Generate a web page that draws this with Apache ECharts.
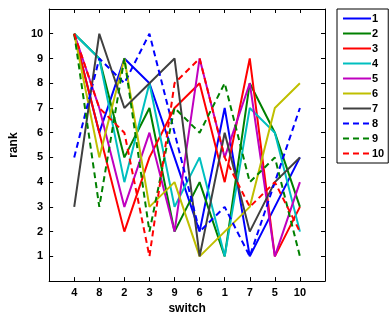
<!DOCTYPE html>
<html><head><meta charset="utf-8">
<script src="https://cdn.jsdelivr.net/npm/echarts@6/dist/echarts.min.js"></script>
<style>html,body{margin:0;padding:0;background:#fff}#c{width:390px;height:320px}</style>
</head><body><div id="c"></div>
<script>
const categories = ['4','8','2','3','9','6','1','7','5','10'];
const yTicks = [1,2,3,4,5,6,7,8,9,10];
const seriesNames = ['1','2','3','4','5','6','7','8','9','10'];
const s1  = [10, 6, 9, 8, 5, 2, 7, 1, 3, 5];
const s2  = [10, 9, 5, 7, 2, 4, 1, 8, 6, 3];
const s3  = [10, 6, 2, 5, 7, 8, 4, 9, 1, 3];
const s4  = [10, 9, 4, 8, 3, 5, 1, 7, 6, 2];
const s5  = [10, 7, 3, 6, 2, 9, 5, 8, 1, 4];
const s6  = [10, 5, 9, 3, 4, 1, 2, 3, 7, 8];
const s7  = [3, 10, 7, 8, 9, 1, 6, 2, 4, 5];
const s8  = [5, 9, 8, 10, 6, 2, 3, 1, 4, 7];
const s9  = [10, 3, 9, 2, 7, 6, 8, 4, 5, 1];
const s10 = [10, 7, 6, 1, 8, 9, 5, 3, 4, 2];
const allSeries = [s1,s2,s3,s4,s5,s6,s7,s8,s9,s10];
const colors = ['#0000ff','#008000','#ff0000','#00bfbf','#bf00bf','#bfbf00','#404040','#0000ff','#008000','#ff0000'];
const dashed = [false,false,false,false,false,false,false,true,true,true];

const chart = echarts.init(document.getElementById('c'));
const font = 'Liberation Sans, Arial, sans-serif';
const series = allSeries.map((vals, k) => ({
  name: seriesNames[k], type: 'line', symbol: 'none', silent: true, animation: false,
  data: vals.map((v, i) => [i + 1, v]),
  lineStyle: { color: colors[k], width: 2, type: dashed[k] ? [6, 4] : 'solid' },
  itemStyle: { color: colors[k] }
}));
const xCommon = { type: 'value', min: 0, max: 11, interval: 1, splitLine: { show: false },
  axisLine: { show: true, onZero: false, lineStyle: { color: '#000', width: 1 } },
  axisTick: { show: true, inside: true, length: 4, lineStyle: { color: '#000' } } };
const yCommon = { type: 'value', min: 0, max: 11, interval: 1, splitLine: { show: false },
  axisLine: { show: true, onZero: false, lineStyle: { color: '#000', width: 1 } },
  axisTick: { show: true, inside: true, length: 4, lineStyle: { color: '#000' } } };
chart.setOption({
  animation: false,
  grid: { left: 42, right: 65, top: 9, bottom: 36 },
  legend: {
    orient: 'vertical', left: 337, top: 9, width: 50,
    data: seriesNames, itemWidth: 28, itemHeight: 10, itemGap: 4,
    padding: [4, 4, 4, 5], borderColor: '#000', borderWidth: 1, backgroundColor: '#fff',
    itemStyle: { opacity: 0 },
    textStyle: { fontFamily: font, fontWeight: 'bold', fontSize: 11, color: '#000', padding: [0,0,0,-4] },
    selectedMode: false
  },
  xAxis: [
    Object.assign({}, xCommon, { position: 'bottom', name: 'switch', nameLocation: 'middle', nameGap: 21,
      nameTextStyle: { fontFamily: font, fontWeight: 'bold', fontSize: 12, color: '#000' },
      axisLabel: { color: '#000', fontFamily: font, fontWeight: 'bold', fontSize: 11, margin: 6,
        formatter: v => (v >= 1 && v <= 10) ? categories[v - 1] : '' } }),
    Object.assign({}, xCommon, { position: 'top', axisLabel: { show: false } })
  ],
  yAxis: [
    Object.assign({}, yCommon, { position: 'left', name: 'rank', nameLocation: 'middle', nameGap: 20,
      nameTextStyle: { fontFamily: font, fontWeight: 'bold', fontSize: 12, color: '#000' },
      axisLabel: { color: '#000', fontFamily: font, fontWeight: 'bold', fontSize: 11, margin: 6,
        formatter: v => yTicks.indexOf(v) >= 0 ? String(v) : '' } }),
    Object.assign({}, yCommon, { position: 'right', axisLabel: { show: false } })
  ],
  series: series
});
</script></body></html>
